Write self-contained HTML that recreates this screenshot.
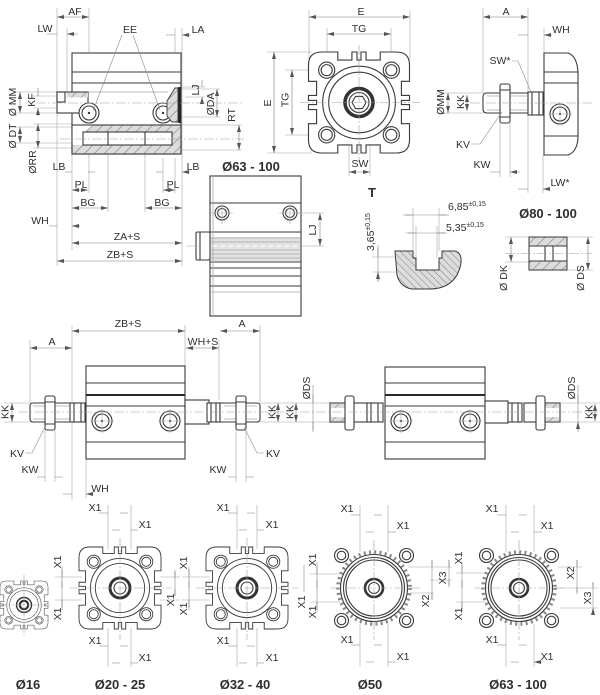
<!DOCTYPE html>
<html><head><meta charset="utf-8">
<style>
html,body{margin:0;padding:0;background:#fff;width:600px;height:695px;overflow:hidden}
svg{display:block}
.o{stroke:#3a3a3a;stroke-width:1.1;fill:none}
.of{stroke:#3a3a3a;stroke-width:1.1;fill:#fff}
.t{stroke:#a6a6a6;stroke-width:.6;fill:none}
.g{stroke:#a8a8a8;stroke-width:.8;fill:none}
.c{stroke:#a0a0a0;stroke-width:.6;fill:none;stroke-dasharray:10 2 2 2}
.d{stroke:#7a7a7a;stroke-width:.6;fill:none;marker-start:url(#m);marker-end:url(#m)}
.a{stroke:#7a7a7a;stroke-width:.6;fill:none;marker-end:url(#m)}
.l{stroke:#8a8a8a;stroke-width:.6;fill:none}
text{font-family:"Liberation Sans",Arial,sans-serif;font-size:10.5px;fill:#2e2e2e}
.b{font-weight:bold;font-size:13px}
</style></head><body>
<svg width="600" height="695" viewBox="0 0 600 695" xmlns="http://www.w3.org/2000/svg">
<defs>
<marker id="m" viewBox="0 0 7 4" refX="7" refY="2" markerWidth="7" markerHeight="4" orient="auto-start-reverse" markerUnits="userSpaceOnUse"><path d="M0,0L7,2L0,4Z" fill="#555"/></marker>
<pattern id="h1" width="7" height="7" patternUnits="userSpaceOnUse" patternTransform="rotate(45)"><rect width="7" height="7" fill="#dcdcdc"/><line x1="0" y1="0" x2="0" y2="7" stroke="#555" stroke-width=".8"/></pattern>
<pattern id="h2" width="5" height="5" patternUnits="userSpaceOnUse" patternTransform="rotate(-45)"><rect width="5" height="5" fill="#dcdcdc"/><line x1="0" y1="0" x2="0" y2="5" stroke="#555" stroke-width=".7"/></pattern>
<g id="ep">
<path class="of" d="M-37,-50H-21V-42H-7V-50H-2V-42H2V-50H7V-42H21V-50H37Q50,-50 50,-37V-21H42V-7H50V-2H42V2H50V7H42V21H50V37Q50,50 37,50H21V42H7V50H2V42H-2V50H-7V42H-21V50H-37Q-50,50 -50,37V21H-42V7H-50V2H-42V-2H-50V-7H-42V-21H-50V-37Q-50,-50 -37,-50Z"/>
<circle r="36" class="o" stroke-width=".9"/>
<circle r="30" class="o" stroke-width=".9"/>
<g class="o" stroke-width=".9">
<circle cx="-32" cy="-32" r="8"/><circle cx="-32" cy="-32" r="5.5"/>
<circle cx="32" cy="-32" r="8"/><circle cx="32" cy="-32" r="5.5"/>
<circle cx="-32" cy="32" r="8"/><circle cx="-32" cy="32" r="5.5"/>
<circle cx="32" cy="32" r="8"/><circle cx="32" cy="32" r="5.5"/>
</g>
</g>
<g id="rp">
<circle r="36" fill="none" stroke="#888" stroke-width="3.6" stroke-dasharray="2 3.3"/>
<circle r="33.5" class="of"/>
<circle r="30.5" class="o" stroke-width=".9"/>
<circle r="28" class="o" stroke-width=".7"/>
<g class="of" stroke-width="1.6">
<circle cx="-32.5" cy="-32.5" r="7"/><circle cx="32.5" cy="-32.5" r="7"/><circle cx="-32.5" cy="32.5" r="7"/><circle cx="32.5" cy="32.5" r="7"/>
</g>
<g class="o" stroke-width=".8">
<circle cx="-32.5" cy="-32.5" r="4.3"/><circle cx="32.5" cy="-32.5" r="4.3"/><circle cx="-32.5" cy="32.5" r="4.3"/><circle cx="32.5" cy="32.5" r="4.3"/>
</g>
<circle r="9" fill="none" stroke="#333" stroke-width="2.6"/>
<circle r="5.5" class="o" stroke-width=".8"/>
</g>
</defs>

<!-- ===== Section 1: longitudinal section ===== -->
<path class="t" d="M57,8V266 M89,8V92 M89,114V193 M67,28V92 M72,120V250 M175,28V87 M182,28V266 M108,146V212 M145,146V212 M163,158V193 M175,158V193"/>
<path class="t" d="M14,92H57 M14,113H57 M33,96H57 M33,108H57 M14,127H72 M14,143H72 M33,124H72 M33,148H72 M180,87H205 M185,97H205 M180,89H220 M180,117H220 M182,125H242 M182,150H242"/>
<rect class="of" x="72" y="53" width="109" height="101"/>
<path class="o" d="M72,72H181 M72,83H181"/>
<path class="g" d="M88,92H168"/>
<rect x="72" y="125" width="109" height="29" fill="url(#h1)" stroke="#3a3a3a" stroke-width="1.1"/>
<path d="M72.6,125.6H92L84,132V145H72.6Z" fill="#fff"/>
<rect class="of" x="83" y="132" width="89" height="13"/>
<path class="o" d="M108,132V145 M145,132V145" stroke-width=".9"/>
<rect class="of" x="57" y="92" width="31" height="21"/>
<rect x="67" y="92.5" width="21" height="5" fill="url(#h1)"/>
<rect class="o" x="57" y="92" width="8" height="10"/>
<circle class="of" cx="89" cy="113" r="10"/><circle class="o" cx="89" cy="113" r="7" stroke-width=".8"/><circle cx="89" cy="113" r="1.2" fill="#333"/>
<circle class="of" cx="163" cy="113" r="10"/><circle class="o" cx="163" cy="113" r="7" stroke-width=".8"/><circle cx="163" cy="113" r="1.2" fill="#333"/>
<path d="M167,101L175,88H178V122H172L167,116Z" fill="url(#h1)" stroke="#3a3a3a" stroke-width=".9"/>
<path d="M179.5,87V123" stroke="#222" stroke-width="2.5"/>
<path class="c" d="M36,103H244 M60,139H244"/>
<path class="l" d="M122,35L93,111 M133,35L160,110"/>
<line class="d" x1="57" y1="17" x2="89" y2="17"/>
<path class="a" d="M47,34H57 M78,34H67"/>
<path class="a" d="M166,35H175 M191,35H182"/>
<line class="d" x1="20" y1="92" x2="20" y2="113"/>
<path class="a" d="M38,88V96 M38,116V108"/>
<line class="d" x1="20" y1="127" x2="20" y2="143"/>
<line class="d" x1="38" y1="124" x2="38" y2="148"/>
<path class="a" d="M202,80V87 M202,104V97"/>
<line class="d" x1="217" y1="89" x2="217" y2="117"/>
<line class="d" x1="239" y1="125" x2="239" y2="150"/>
<path class="a" d="M65,172H72 M95,172H88 M156,172H163 M190,172H182"/>
<line class="d" x1="72" y1="190" x2="88" y2="190"/>
<line class="d" x1="163" y1="190" x2="175" y2="190"/>
<line class="d" x1="72" y1="208" x2="108" y2="208"/>
<line class="d" x1="145" y1="208" x2="182" y2="208"/>
<path class="a" d="M49,226H57 M80,226H72"/>
<line class="d" x1="72" y1="243" x2="182" y2="243"/>
<line class="d" x1="57" y1="261" x2="182" y2="261"/>
<text x="75" y="15" text-anchor="middle">AF</text>
<text x="45" y="32" text-anchor="middle">LW</text>
<text x="130" y="33" text-anchor="middle">EE</text>
<text x="198" y="33" text-anchor="middle">LA</text>
<text x="59" y="170" text-anchor="middle">LB</text>
<text x="193" y="170" text-anchor="middle">LB</text>
<text x="81" y="188" text-anchor="middle">PL</text>
<text x="173" y="188" text-anchor="middle">PL</text>
<text x="88" y="206" text-anchor="middle">BG</text>
<text x="162" y="206" text-anchor="middle">BG</text>
<text x="40" y="224" text-anchor="middle">WH</text>
<text x="127" y="240" text-anchor="middle">ZA+S</text>
<text x="120" y="258" text-anchor="middle">ZB+S</text>
<text transform="translate(16,102) rotate(-90)" text-anchor="middle">Ø MM</text>
<text transform="translate(35,100) rotate(-90)" text-anchor="middle">KF</text>
<text transform="translate(16,136) rotate(-90)" text-anchor="middle">Ø DT</text>
<text transform="translate(36,162) rotate(-90)" text-anchor="middle">ØRR</text>
<text transform="translate(199,90) rotate(-90)" text-anchor="middle">LJ</text>
<text transform="translate(214,104) rotate(-90)" text-anchor="middle">ØDA</text>
<text transform="translate(235,115) rotate(-90)" text-anchor="middle">RT</text>

<!-- ===== Section 2: Ø63-100 side ===== -->
<text class="b" x="251" y="171" text-anchor="middle">Ø63 - 100</text>
<rect class="of" x="210" y="176" width="91" height="140"/>
<rect x="211" y="237" width="89" height="24" fill="#e2e2e2"/>
<path class="o" d="M210,203H301 M210,232H301 M210,262H301 M210,268H301 M210,276H301 M210,286H301"/>
<path class="g" d="M211,238H300 M211,242H300 M211,250H300 M211,254H300 M211,258H300 M211,292H300 M213,176V316"/>
<path d="M213,246H300" stroke="#fff" stroke-width="1.2" stroke-dasharray="4 4"/>
<g class="o" stroke-width=".9"><circle cx="222" cy="213" r="7"/><circle cx="222" cy="213" r="4.5"/><circle cx="290" cy="213" r="7"/><circle cx="290" cy="213" r="4.5"/></g>
<path class="t" d="M211,213H233 M222,202V224 M279,213H301 M290,202V224"/>
<rect class="of" x="196" y="232" width="14" height="28" rx="1.5"/>
<path class="o" d="M200,232V260" stroke-width=".7"/>
<path class="c" d="M186,246H200"/>
<path class="t" d="M298,213H324 M301,246H324"/>
<line class="d" x1="320" y1="213" x2="320" y2="246"/>
<text transform="translate(316,230) rotate(-90)" text-anchor="middle">LJ</text>

<!-- ===== Section 3: end view ===== -->
<path class="t" d="M309,10V60 M410,10V60 M327,28V66 M391,28V66 M267,52H312 M267,153H312 M285,70H320 M285,135H320 M349,140V176 M370,140V176"/>
<use href="#ep" transform="translate(359,102.5) scale(1.01)"/>
<circle cx="359" cy="102.5" r="14" fill="none" stroke="#333" stroke-width="3.6"/>
<circle cx="359" cy="102.5" r="10" class="o" stroke-width=".8"/>
<path class="o" stroke-width=".8" d="M366,102.5L362.5,108.6H355.5L352,102.5L355.5,96.4H362.5Z"/>
<path class="c" d="M300,102.5H420 M359,45V162"/>
<line class="d" x1="309" y1="17" x2="410" y2="17"/>
<line class="d" x1="327" y1="34" x2="391" y2="34"/>
<line class="d" x1="274" y1="52" x2="274" y2="153"/>
<line class="d" x1="292" y1="70" x2="292" y2="135"/>
<line class="d" x1="349" y1="172" x2="370" y2="172"/>
<text x="361" y="15" text-anchor="middle">E</text>
<text x="359" y="32" text-anchor="middle">TG</text>
<text x="360" y="167" text-anchor="middle">SW</text>
<text transform="translate(271,103) rotate(-90)" text-anchor="middle">E</text>
<text transform="translate(288.5,100) rotate(-90)" text-anchor="middle">TG</text>

<!-- ===== Section 4: rod side view ===== -->
<path class="t" d="M483,8V93 M528,8V92 M544,28V53 M436,93H484 M436,113H484 M500,123V177 M510,123V177 M528,115V193 M543,155V193"/>
<path class="of" d="M544,53H568Q577,56 578,72V138Q577,152 568,155H544Z"/>
<path class="o" d="M544,72H578 M544,83H578 M544,136H578" stroke-width=".9"/>
<circle class="of" cx="560" cy="114" r="10"/><circle class="o" cx="560" cy="114" r="7" stroke-width=".8"/><circle cx="560" cy="114" r="1.2" fill="#333"/>
<path class="t" d="M548,114H572 M560,102V126"/>
<path class="of" d="M487,93H528V113H487Q483,113 483,109V97Q483,93 487,93Z"/>
<path class="g" d="M487,96H500 M487,110H500 M510,96H527 M510,110H527"/>
<rect class="of" x="500" y="84" width="10" height="39" rx="2"/>
<path class="o" d="M500,90H510 M500,117H510" stroke-width=".7"/>
<rect class="of" x="528" y="92" width="15" height="23"/>
<path class="o" d="M532,92V115 M539,92V115" stroke-width=".7"/>
<path class="c" d="M470,103H592"/>
<line class="d" x1="483" y1="17" x2="528" y2="17"/>
<path class="a" d="M518,35H528 M552,35H544"/>
<line class="d" x1="448" y1="93" x2="448" y2="113"/>
<line class="d" x1="467" y1="95" x2="467" y2="111"/>
<path class="a" d="M490,172H500 M520,172H510"/>
<path class="a" d="M518,189H528 M549,189H543"/>
<path class="l" d="M512,61H518L531,92 M471,144H480L502,112"/>
<text x="506" y="15" text-anchor="middle">A</text>
<text x="561" y="33" text-anchor="middle">WH</text>
<text x="500" y="64" text-anchor="middle">SW*</text>
<text x="463" y="148" text-anchor="middle">KV</text>
<text x="482" y="168" text-anchor="middle">KW</text>
<text x="560" y="186" text-anchor="middle">LW*</text>
<text transform="translate(444,102) rotate(-90)" text-anchor="middle">ØMM</text>
<text transform="translate(464,102) rotate(-90)" text-anchor="middle">KK</text>

<!-- ===== Section 5: T slot ===== -->
<text class="b" x="372" y="197" text-anchor="middle">T</text>
<path class="t" d="M413,208V251 M439,208V251 M416,226V258 M437,226V258 M372,257H414 M372,272H400"/>
<path d="M395,251H413V258H416V270H439V258H442V251H455Q462,253 461,263Q458,280 445,286Q438,289 430,289H412Q400,287 397,275Z" fill="url(#h2)" stroke="#3a3a3a" stroke-width="1"/>
<path class="l" d="M403,215H449 M406,233H447 M378,245V282"/>
<path class="a" d="M405,215H413 M447,215H439 M408,233H416 M445,233H437 M378,248V257 M378,281V272"/>
<text x="448" y="210">6,85<tspan font-size="7" dy="-4">±0,15</tspan></text>
<text x="446" y="231">5,35<tspan font-size="7" dy="-4">±0,15</tspan></text>
<text transform="translate(374,251) rotate(-90)">3,65<tspan font-size="7" dy="-4">±0,15</tspan></text>

<!-- ===== Section 6: Ø80-100 ===== -->
<text class="b" x="548" y="218" text-anchor="middle">Ø80 - 100</text>
<path class="t" d="M505,237H529 M505,262H529 M567,237H593 M567,270H593"/>
<rect x="529" y="237" width="38" height="33" fill="url(#h1)" stroke="#3a3a3a"/>
<rect x="529.5" y="246" width="37" height="15" fill="#fff"/>
<path class="o" d="M529,246H567 M529,261H567 M545,246V261 M553,246V261" stroke-width=".8"/>
<path class="c" d="M505,253.5H592"/>
<line class="d" x1="511" y1="237" x2="511" y2="262"/>
<line class="d" x1="588" y1="237" x2="588" y2="270"/>
<text transform="translate(507,278) rotate(-90)" text-anchor="middle">Ø DK</text>
<text transform="translate(584,278) rotate(-90)" text-anchor="middle">Ø DS</text>

<!-- ===== Section 7: double rod male ===== -->
<path class="t" d="M30,340V403 M72,325V500 M185,325V366 M219,340V400 M260,325V403 M4,403H30 M4,422H30 M260,403H300 M260,422H300 M45,430V482 M55,430V482 M236,430V482 M246,430V482 M86,459V498"/>
<rect class="of" x="86" y="366" width="99" height="93"/>
<path class="o" d="M86,383H185 M86,406H185 M86,442H185"/>
<path d="M86,395H185" stroke="#2a2a2a" stroke-width="2"/>
<circle class="of" cx="102" cy="421" r="10"/><circle class="o" cx="102" cy="421" r="7" stroke-width=".8"/><circle cx="102" cy="421" r="1.2" fill="#333"/>
<circle class="of" cx="170" cy="421" r="10"/><circle class="o" cx="170" cy="421" r="7" stroke-width=".8"/><circle cx="170" cy="421" r="1.2" fill="#333"/>
<path class="t" d="M90,421H114 M102,409V433 M158,421H182 M170,409V433"/>
<path class="of" d="M33,403H72V422H33Q30,422 30,419V406Q30,403 33,403Z"/>
<path class="g" d="M33,406H45 M33,419H45 M55,406H70 M55,419H70"/>
<rect class="of" x="45" y="396" width="10" height="34" rx="2"/>
<path class="o" stroke-width=".7" d="M45,402H55 M45,424H55"/>
<rect class="of" x="70" y="403" width="15" height="19"/>
<path class="o" stroke-width=".7" d="M74,403V422 M81,403V422"/>
<rect class="of" x="185" y="400" width="24" height="24"/>
<rect class="of" x="207" y="403" width="13" height="19"/>
<path class="o" stroke-width=".7" d="M211,403V422 M216,403V422"/>
<path class="of" d="M220,403H257Q260,403 260,406V419Q260,422 257,422H220Z"/>
<path class="g" d="M224,406H236 M224,419H236 M247,406H257 M247,419H257"/>
<rect class="of" x="236" y="396" width="10" height="34" rx="2"/>
<path class="o" stroke-width=".7" d="M236,402H246 M236,424H246"/>
<path class="c" d="M18,412H292"/>
<line class="d" x1="72" y1="331" x2="185" y2="331"/>
<line class="d" x1="30" y1="348" x2="72" y2="348"/>
<line class="d" x1="186" y1="348" x2="219" y2="348"/>
<line class="d" x1="220" y1="331" x2="260" y2="331"/>
<line class="d" x1="12" y1="403" x2="12" y2="422"/>
<line class="d" x1="278" y1="403" x2="278" y2="422"/>
<line class="d" x1="296" y1="403" x2="296" y2="422"/>
<path class="l" d="M25,453H32L45,427 M264,453H257L244,427"/>
<path class="a" d="M37,477H45 M63,477H55 M228,477H236 M254,477H246 M63,494H72 M91,494H86"/>
<text x="128" y="327" text-anchor="middle">ZB+S</text>
<text x="52" y="345" text-anchor="middle">A</text>
<text x="203" y="345" text-anchor="middle">WH+S</text>
<text x="242" y="327" text-anchor="middle">A</text>
<text transform="translate(8.5,412) rotate(-90)" text-anchor="middle">KK</text>
<text transform="translate(275.5,412) rotate(-90)" text-anchor="middle">KK</text>
<text transform="translate(293.5,412) rotate(-90)" text-anchor="middle">KK</text>
<text x="17" y="457" text-anchor="middle">KV</text>
<text x="273" y="457" text-anchor="middle">KV</text>
<text x="30" y="473" text-anchor="middle">KW</text>
<text x="218" y="473" text-anchor="middle">KW</text>
<text x="100" y="492" text-anchor="middle">WH</text>

<!-- ===== Section 8: double rod female ===== -->
<path class="t" d="M300,403H330 M300,422H330 M560,403H600 M560,422H600"/>
<rect class="of" x="385" y="367" width="100" height="92"/>
<path class="o" d="M385,383H485 M385,406H485 M385,442H485"/>
<path d="M385,395H485" stroke="#2a2a2a" stroke-width="2"/>
<circle class="of" cx="401" cy="421" r="10"/><circle class="o" cx="401" cy="421" r="7" stroke-width=".8"/><circle cx="401" cy="421" r="1.2" fill="#333"/>
<circle class="of" cx="470" cy="421" r="10"/><circle class="o" cx="470" cy="421" r="7" stroke-width=".8"/><circle cx="470" cy="421" r="1.2" fill="#333"/>
<path class="t" d="M389,421H413 M401,409V433 M458,421H482 M470,409V433"/>
<rect class="of" x="330" y="403" width="37" height="19"/>
<rect x="331" y="404" width="14" height="4" fill="url(#h1)"/>
<rect x="331" y="417" width="14" height="4" fill="url(#h1)"/>
<rect class="of" x="345" y="396" width="9" height="34" rx="2"/>
<rect class="of" x="367" y="403" width="16" height="19"/>
<path class="o" stroke-width=".7" d="M371,403V422 M378,403V422"/>
<rect class="of" x="485" y="401" width="23" height="22"/>
<rect class="of" x="508" y="403" width="14" height="19"/>
<path class="o" stroke-width=".7" d="M512,403V422 M518,403V422"/>
<rect class="of" x="524" y="403" width="36" height="19"/>
<rect x="545" y="404" width="14" height="4" fill="url(#h1)"/>
<rect x="545" y="417" width="14" height="4" fill="url(#h1)"/>
<rect class="of" x="536" y="396" width="9" height="34" rx="2"/>
<path class="c" d="M300,412H600"/>
<path class="l" d="M313,385V432 M578,385V432"/>
<path class="a" d="M313,395V403 M313,430V422 M578,395V403 M578,430V422"/>
<line class="d" x1="595" y1="404" x2="595" y2="421"/>
<text transform="translate(310,388) rotate(-90)" text-anchor="middle">ØDS</text>
<text transform="translate(575,388) rotate(-90)" text-anchor="middle">ØDS</text>
<text transform="translate(592.5,412) rotate(-90)" text-anchor="middle">KK</text>

<!-- ===== Section 9: end views ===== -->
<path class="t" d="M108,505V549 M131,505V549 M108,628V667 M131,628V667
M237,505V549 M257,505V549 M237,628V667 M257,628V667
M360,505V552 M388,505V552 M360,624V667 M388,624V667
M506,505V552 M534,505V552 M506,624V667 M534,624V667
M55,577H82 M55,600H82 M160,577H180 M160,600H180 M182,577H210 M182,600H210
M310,574H340 M310,602H340 M456,573H486 M456,602H486
M408,567H452 M430,580H452 M410,593H434 M558,567H582 M556,588H598 M560,608H598"/>
<use href="#ep" transform="translate(24,605) scale(.48)"/>
<circle cx="24" cy="605" r="7.5" fill="none" stroke="#333" stroke-width="1.4"/>
<circle cx="24" cy="605" r="4.2" fill="none" stroke="#333" stroke-width="2.2"/>
<use href="#ep" transform="translate(120,588) scale(.82)"/>
<circle cx="120" cy="588" r="10" fill="none" stroke="#333" stroke-width="3"/>
<circle cx="120" cy="588" r="6" class="o" stroke-width=".8"/>
<use href="#ep" transform="translate(247,588) scale(.82)"/>
<circle cx="247" cy="588" r="10" fill="none" stroke="#333" stroke-width="3"/>
<circle cx="247" cy="588" r="6" class="o" stroke-width=".8"/>
<use href="#rp" transform="translate(374,588)"/>
<use href="#rp" transform="translate(519,588)"/>
<path class="c" d="M0,605H50 M24,575V636 M70,588H172 M120,538V640 M196,588H298 M247,538V640 M330,588H420 M374,540V640 M474,588H566 M519,540V640"/>
<path class="a" d="M99,513H108 M128,513H120 M112,530H120 M138,530H131 M99,646H108 M128,646H120 M112,663H120 M138,663H131
M228,513H237 M255,513H247 M239,530H247 M264,530H257 M228,646H237 M255,646H247 M239,663H247 M264,663H257
M351,515H360 M382,515H374 M366,532H374 M396,532H388 M351,645H360 M382,645H374 M366,662H374 M396,662H388
M497,515H506 M527,515H519 M511,532H519 M542,532H534 M497,645H506 M527,645H519 M511,662H519 M542,662H534"/>
<text x="95" y="511" text-anchor="middle">X1</text><text x="145" y="528" text-anchor="middle">X1</text>
<text x="95" y="644" text-anchor="middle">X1</text><text x="145" y="661" text-anchor="middle">X1</text>
<text x="223" y="511" text-anchor="middle">X1</text><text x="272" y="528" text-anchor="middle">X1</text>
<text x="223" y="644" text-anchor="middle">X1</text><text x="272" y="661" text-anchor="middle">X1</text>
<text x="347" y="512" text-anchor="middle">X1</text><text x="403" y="529" text-anchor="middle">X1</text>
<text x="347" y="643" text-anchor="middle">X1</text><text x="403" y="660" text-anchor="middle">X1</text>
<text x="492" y="512" text-anchor="middle">X1</text><text x="547" y="529" text-anchor="middle">X1</text>
<text x="492" y="643" text-anchor="middle">X1</text><text x="547" y="660" text-anchor="middle">X1</text>
<path class="l" d="M62,567V610 M175,570V596 M189,567V610 M317,562V612 M304,565V592 M462,562V612 M449,560V585 M432,560V600 M577,560V592 M593,582V614"/>
<path class="a" d="M62,569V577 M62,581V588 M62,608V600 M175,571V578 M175,596V589 M189,569V577 M189,581V588 M189,608V600 M317,566V574 M317,580V588 M317,610V602 M462,565V573 M462,580V588 M462,610V602 M449,560V567 M449,587V580 M432,560V567 M432,600V593 M577,560V567 M577,594V588 M593,582V588 M593,614V608"/>
<text transform="translate(61,562) rotate(-90)" text-anchor="middle">X1</text>
<text transform="translate(61,614) rotate(-90)" text-anchor="middle">X1</text>
<text transform="translate(174,600) rotate(-90)" text-anchor="middle">X1</text>
<text transform="translate(187,563) rotate(-90)" text-anchor="middle">X1</text>
<text transform="translate(187,609) rotate(-90)" text-anchor="middle">X1</text>
<text transform="translate(305,602) rotate(-90)" text-anchor="middle">X1</text>
<text transform="translate(316,560) rotate(-90)" text-anchor="middle">X1</text>
<text transform="translate(316,612) rotate(-90)" text-anchor="middle">X1</text>
<text transform="translate(446,578) rotate(-90)" text-anchor="middle">X3</text>
<text transform="translate(429,601) rotate(-90)" text-anchor="middle">X2</text>
<text transform="translate(462,558) rotate(-90)" text-anchor="middle">X1</text>
<text transform="translate(462,614) rotate(-90)" text-anchor="middle">X1</text>
<text transform="translate(574,573) rotate(-90)" text-anchor="middle">X2</text>
<text transform="translate(591,598) rotate(-90)" text-anchor="middle">X3</text>
<text class="b" x="28" y="689" text-anchor="middle">Ø16</text>
<text class="b" x="120" y="689" text-anchor="middle">Ø20 - 25</text>
<text class="b" x="245" y="689" text-anchor="middle">Ø32 - 40</text>
<text class="b" x="370" y="689" text-anchor="middle">Ø50</text>
<text class="b" x="518" y="689" text-anchor="middle">Ø63 - 100</text>
</svg>
</body></html>
